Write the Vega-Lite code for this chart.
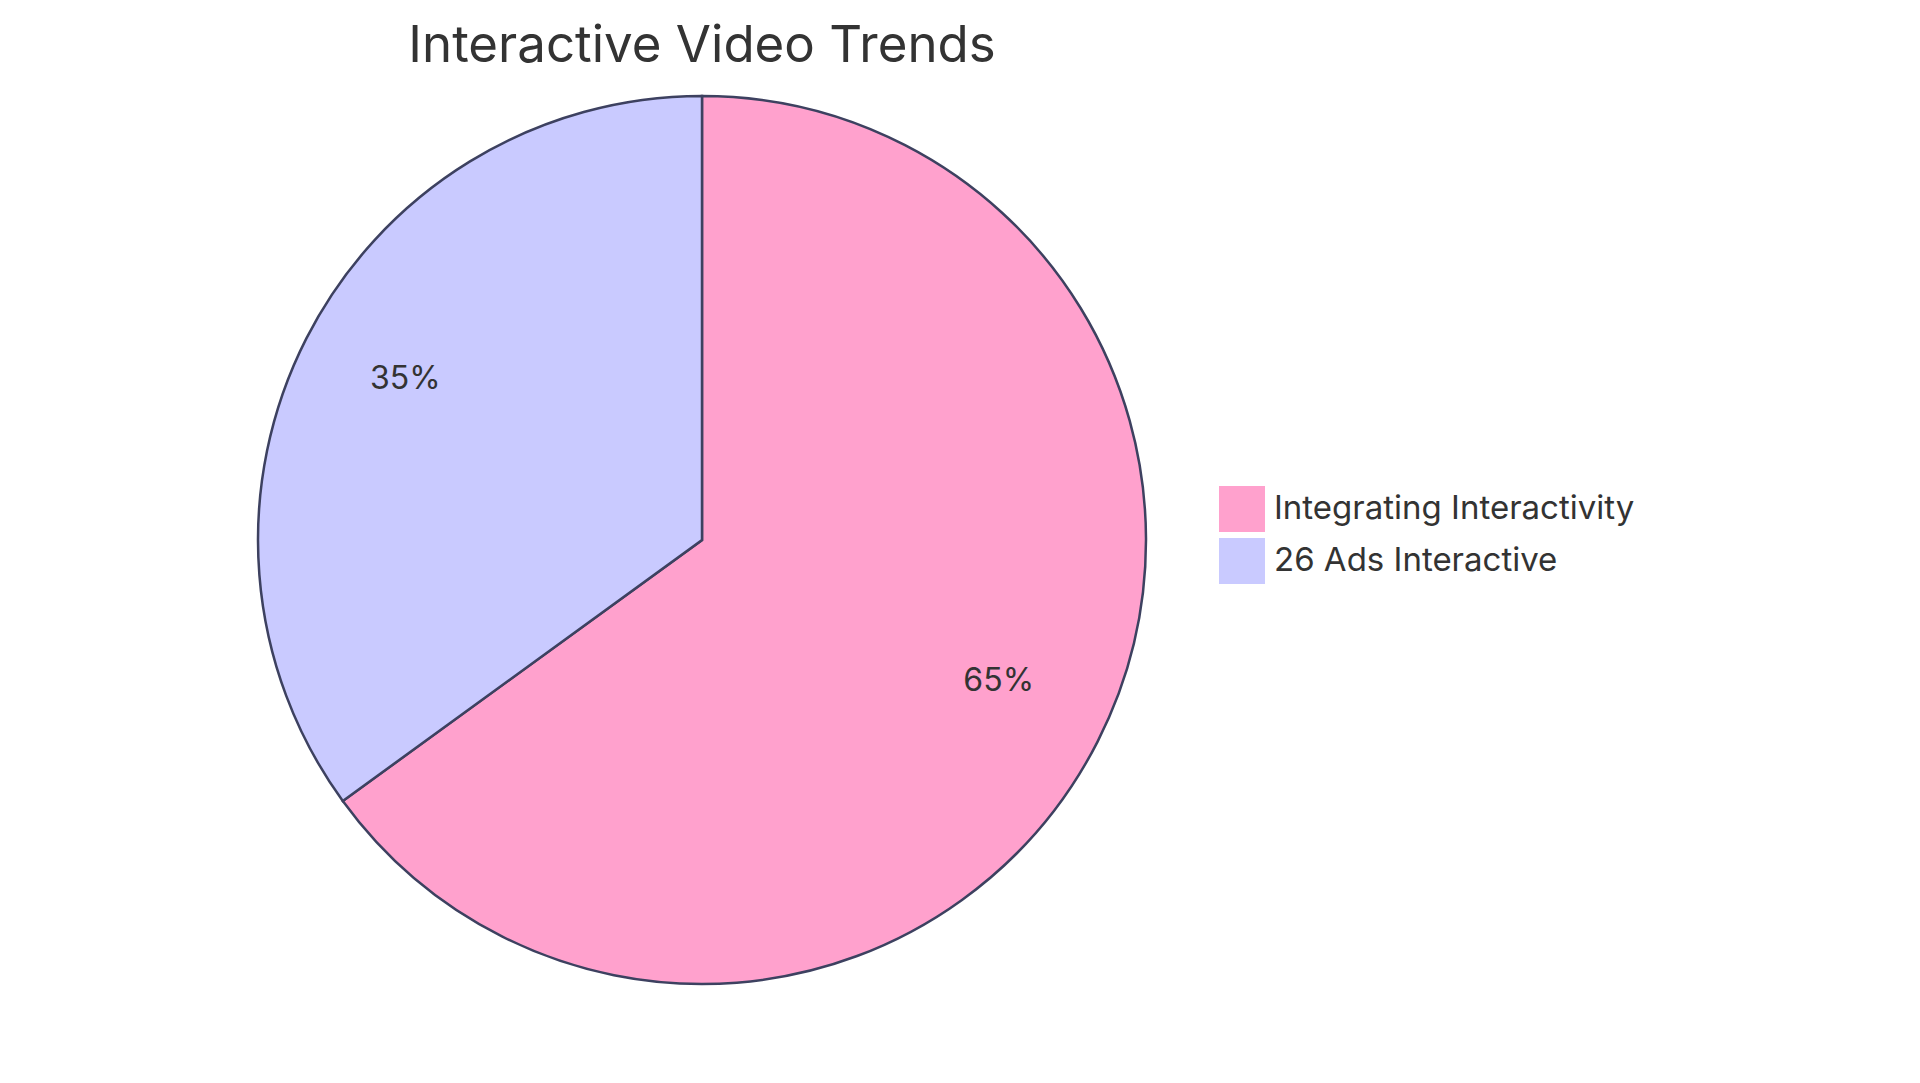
{
  "$schema": "https://vega.github.io/schema/vega-lite/v6.json",
  "background": "white",
  "autosize": {"type": "none"},
  "width": 1404,
  "height": 1080,
  "padding": {"left": 0, "top": 0, "right": 516, "bottom": 3},
  "title": {
    "text": "Interactive Video Trends",
    "anchor": "middle",
    "font": "Inter",
    "fontSize": 51,
    "fontWeight": "normal",
    "color": "#333333",
    "baseline": "alphabetic",
    "offset": 0,
    "dy": 113
  },
  "data": {
    "values": [
      {"category": "Integrating Interactivity", "share": 0.65},
      {"category": "26 Ads Interactive", "share": 0.35}
    ]
  },
  "encoding": {
    "theta": {"field": "share", "type": "quantitative", "stack": true},
    "order": {"field": "share", "type": "quantitative", "sort": "descending"},
    "color": {
      "field": "category",
      "type": "nominal",
      "scale": {
        "domain": ["Integrating Interactivity", "26 Ads Interactive"],
        "range": ["#FFA1CD", "#C9CAFF"]
      },
      "legend": {
        "title": null,
        "orient": "none",
        "legendX": 1219,
        "legendY": 486,
        "padding": 0,
        "symbolType": "square",
        "symbolSize": 2116,
        "symbolStrokeWidth": 0,
        "symbolOpacity": 1,
        "rowPadding": 6,
        "labelOffset": 9,
        "labelFont": "Inter",
        "labelFontSize": 33,
        "labelColor": "#333333",
        "labelLimit": 600
      }
    }
  },
  "layer": [
    {
      "mark": {
        "type": "arc",
        "outerRadius": 444,
        "stroke": "#3d4160",
        "strokeWidth": 2.5
      }
    },
    {
      "mark": {
        "type": "text",
        "radius": 333,
        "font": "Inter",
        "fontSize": 32,
        "align": "center",
        "baseline": "alphabetic"
      },
      "encoding": {
        "text": {"field": "share", "type": "quantitative", "format": ".0%"},
        "color": {"value": "#333333"}
      }
    }
  ],
  "config": {
    "view": {"stroke": null}
  }
}
